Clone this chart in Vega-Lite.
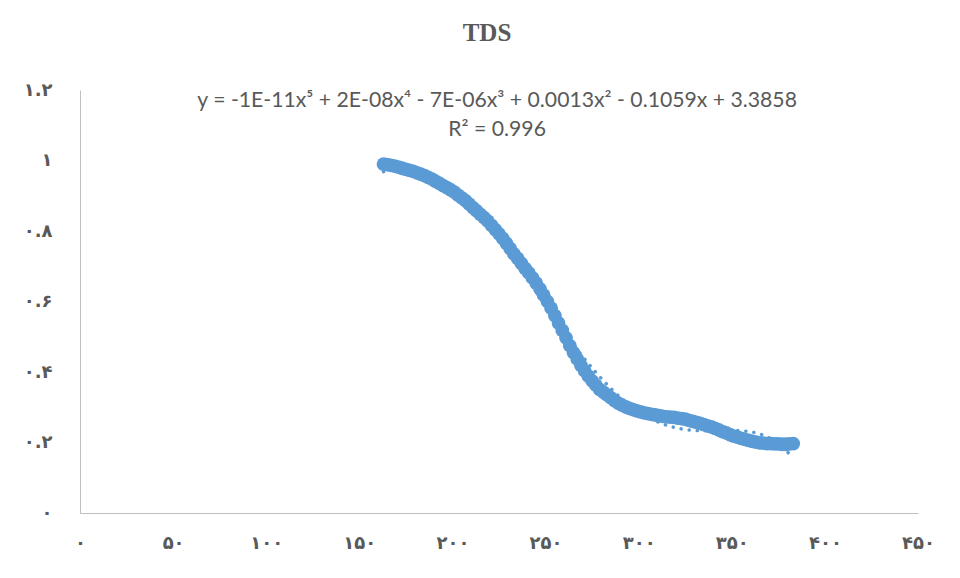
{
  "$schema": "https://vega.github.io/schema/vega-lite/v6.json",
  "width": 838,
  "height": 423,
  "autosize": {"type": "none"},
  "padding": {"left": 80, "top": 90, "right": 42, "bottom": 65},
  "background": "white",
  "title": {
    "text": "TDS",
    "font": "Liberation Serif",
    "fontSize": 25,
    "fontWeight": "bold",
    "color": "#595959",
    "offset": 35,
    "dx": -12
  },
  "config": {"view": {"stroke": null}},
  "datasets": {
    "tds": [
      {"x": 163, "y": 0.990}, {"x": 165, "y": 0.988}, {"x": 167, "y": 0.986}, {"x": 169, "y": 0.984},
      {"x": 171, "y": 0.981}, {"x": 173, "y": 0.978}, {"x": 175, "y": 0.975}, {"x": 177, "y": 0.972},
      {"x": 179, "y": 0.969}, {"x": 181, "y": 0.965}, {"x": 183, "y": 0.961}, {"x": 185, "y": 0.957},
      {"x": 187, "y": 0.952}, {"x": 189, "y": 0.947}, {"x": 191, "y": 0.941}, {"x": 193, "y": 0.935},
      {"x": 195, "y": 0.929}, {"x": 197, "y": 0.923}, {"x": 199, "y": 0.917}, {"x": 201, "y": 0.910},
      {"x": 203, "y": 0.902}, {"x": 205, "y": 0.894}, {"x": 207, "y": 0.886}, {"x": 209, "y": 0.876},
      {"x": 211, "y": 0.866}, {"x": 213, "y": 0.857}, {"x": 215, "y": 0.847}, {"x": 217, "y": 0.838},
      {"x": 219, "y": 0.828}, {"x": 221, "y": 0.816}, {"x": 223, "y": 0.804}, {"x": 225, "y": 0.792},
      {"x": 227, "y": 0.779}, {"x": 229, "y": 0.765}, {"x": 231, "y": 0.750}, {"x": 233, "y": 0.735},
      {"x": 235, "y": 0.722}, {"x": 237, "y": 0.708}, {"x": 239, "y": 0.694}, {"x": 241, "y": 0.681},
      {"x": 243, "y": 0.667}, {"x": 245, "y": 0.652}, {"x": 247, "y": 0.636}, {"x": 249, "y": 0.618},
      {"x": 251, "y": 0.600}, {"x": 253, "y": 0.581}, {"x": 255, "y": 0.560}, {"x": 257, "y": 0.539},
      {"x": 259, "y": 0.518}, {"x": 261, "y": 0.497}, {"x": 263, "y": 0.475}, {"x": 265, "y": 0.455},
      {"x": 267, "y": 0.437}, {"x": 269, "y": 0.419}, {"x": 271, "y": 0.403}, {"x": 273, "y": 0.388},
      {"x": 275, "y": 0.375}, {"x": 277, "y": 0.363}, {"x": 279, "y": 0.351}, {"x": 281, "y": 0.343},
      {"x": 283, "y": 0.335}, {"x": 285, "y": 0.327}, {"x": 287, "y": 0.319}, {"x": 289, "y": 0.312},
      {"x": 291, "y": 0.306}, {"x": 293, "y": 0.301}, {"x": 295, "y": 0.297}, {"x": 297, "y": 0.293},
      {"x": 299, "y": 0.290}, {"x": 301, "y": 0.287}, {"x": 303, "y": 0.284}, {"x": 305, "y": 0.282},
      {"x": 307, "y": 0.280}, {"x": 309, "y": 0.278}, {"x": 311, "y": 0.276}, {"x": 313, "y": 0.274},
      {"x": 315, "y": 0.273}, {"x": 317, "y": 0.272}, {"x": 319, "y": 0.271}, {"x": 321, "y": 0.269},
      {"x": 323, "y": 0.268}, {"x": 325, "y": 0.266}, {"x": 327, "y": 0.263}, {"x": 329, "y": 0.260},
      {"x": 331, "y": 0.257}, {"x": 333, "y": 0.254}, {"x": 335, "y": 0.251}, {"x": 337, "y": 0.247},
      {"x": 339, "y": 0.244}, {"x": 341, "y": 0.240}, {"x": 343, "y": 0.236}, {"x": 345, "y": 0.231},
      {"x": 347, "y": 0.227}, {"x": 349, "y": 0.222}, {"x": 351, "y": 0.218}, {"x": 353, "y": 0.215},
      {"x": 355, "y": 0.212}, {"x": 357, "y": 0.209}, {"x": 359, "y": 0.206}, {"x": 361, "y": 0.203},
      {"x": 363, "y": 0.201}, {"x": 365, "y": 0.199}, {"x": 367, "y": 0.198}, {"x": 369, "y": 0.197},
      {"x": 371, "y": 0.197}, {"x": 373, "y": 0.196}, {"x": 375, "y": 0.196}, {"x": 377, "y": 0.195},
      {"x": 379, "y": 0.195}, {"x": 381, "y": 0.196}, {"x": 383, "y": 0.197}
    ],
    "notes": [
      {"x": 224, "y": 1.169, "label": "y = -1E-11x⁵ + 2E-08x⁴ - 7E-06x³ + 0.0013x² - 0.1059x + 3.3858"},
      {"x": 224, "y": 1.087, "label": "R² = 0.996"}
    ]
  },
  "layer": [
    {
      "data": {"name": "tds"},
      "mark": {"type": "circle", "size": 190, "color": "#5B9BD5", "opacity": 1},
      "encoding": {
        "x": {
          "field": "x",
          "type": "quantitative",
          "title": null,
          "scale": {"domain": [0, 450], "nice": false, "zero": false},
          "axis": {
            "values": [0, 50, 100, 150, 200, 250, 300, 350, 400, 450],
            "grid": false,
            "ticks": false,
            "tickSize": 0,
            "domainColor": "#BFBFBF",
            "domainWidth": 1,
            "labelFont": "DejaVu Sans",
            "labelFontSize": 18,
            "labelFontWeight": "bold",
            "labelColor": "#595959",
            "labelPadding": 21,
            "labelFlush": false,
            "labelOverlap": false,
            "labelExpr": "replace(replace(replace(replace(replace(replace(replace(replace(replace(replace(datum.label,regexp('0','g'),'۰'),regexp('1','g'),'۱'),regexp('2','g'),'۲'),regexp('3','g'),'۳'),regexp('4','g'),'۴'),regexp('5','g'),'۵'),regexp('6','g'),'۶'),regexp('7','g'),'۷'),regexp('8','g'),'۸'),regexp('9','g'),'۹')"
          }
        },
        "y": {
          "field": "y",
          "type": "quantitative",
          "title": null,
          "scale": {"domain": [0, 1.2], "nice": false, "zero": false},
          "axis": {
            "values": [0, 0.2, 0.4, 0.6, 0.8, 1, 1.2],
            "format": "~g",
            "grid": false,
            "ticks": false,
            "tickSize": 0,
            "domainColor": "#BFBFBF",
            "domainWidth": 1,
            "labelFont": "DejaVu Sans",
            "labelFontSize": 18,
            "labelFontWeight": "bold",
            "labelColor": "#595959",
            "labelPadding": 28,
            "labelOverlap": false,
            "labelFlush": false,
            "labelExpr": "replace(replace(replace(replace(replace(replace(replace(replace(replace(replace(datum.label,regexp('0','g'),'۰'),regexp('1','g'),'۱'),regexp('2','g'),'۲'),regexp('3','g'),'۳'),regexp('4','g'),'۴'),regexp('5','g'),'۵'),regexp('6','g'),'۶'),regexp('7','g'),'۷'),regexp('8','g'),'۸'),regexp('9','g'),'۹')"
          }
        }
      }
    },
    {
      "data": {"name": "tds"},
      "transform": [{"regression": "y", "on": "x", "method": "poly", "order": 5}],
      "mark": {"type": "line", "color": "#5B9BD5", "strokeWidth": 3.5, "strokeCap": "round", "strokeDash": [0.1, 8]},
      "encoding": {
        "x": {"field": "x", "type": "quantitative"},
        "y": {"field": "y", "type": "quantitative"}
      }
    },
    {
      "data": {"name": "notes"},
      "mark": {"type": "text", "font": "Lato", "fontSize": 21.2, "color": "#595959", "baseline": "middle", "align": "center"},
      "encoding": {
        "x": {"field": "x", "type": "quantitative"},
        "y": {"field": "y", "type": "quantitative"},
        "text": {"field": "label"}
      }
    }
  ]
}
